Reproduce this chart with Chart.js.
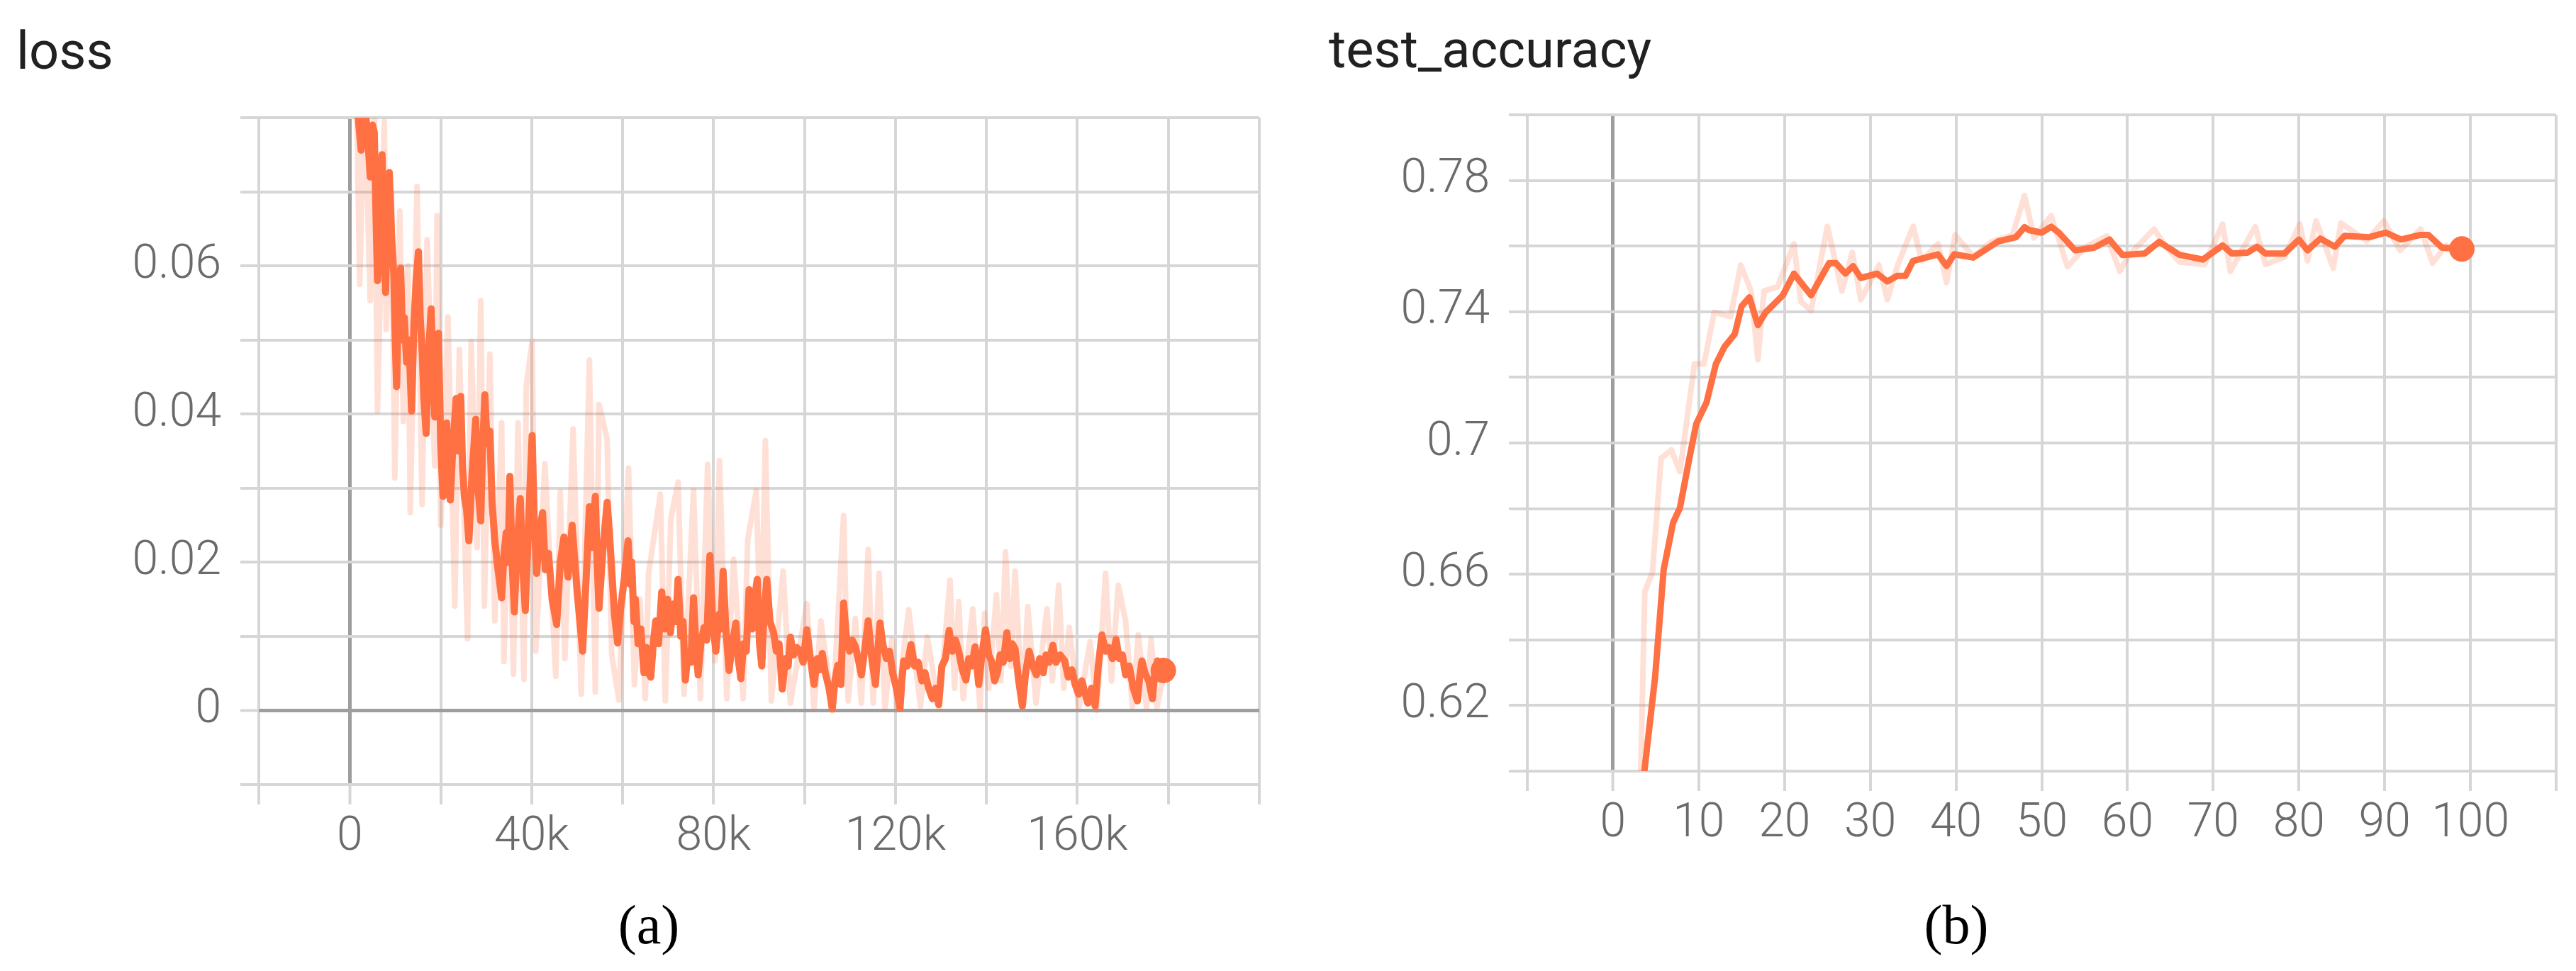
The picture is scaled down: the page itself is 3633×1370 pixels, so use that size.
<!DOCTYPE html>
<html>
<head>
<meta charset="utf-8">
<script src="https://cdn.jsdelivr.net/npm/chart.js@4.4.0/dist/chart.umd.min.js"></script>
<style>
  html, body { margin: 0; padding: 0; background: #fff; }
  body { width: 3633px; height: 1370px; position: relative; overflow: hidden; }
  canvas { position: absolute; top: 0; }
  #lossChart { left: 0; }
  #accChart { left: 1800px; }
  .title { position: absolute; font-family: Roboto, sans-serif; font-size: 74px; line-height: 1; color: #212121; white-space: nowrap; }
  .caption { position: absolute; top: 1266px; width: 200px; text-align: center; font-family: "Liberation Serif", serif; font-size: 78px; line-height: 1; color: #000; }
</style>
</head>
<body>
<div class="title" style="left:23px; top:35px">loss</div>
<div class="title" style="left:1874px; top:33px">test_accuracy</div>
<canvas id="lossChart" width="1800" height="1370"></canvas>
<canvas id="accChart" width="1833" height="1370"></canvas>
<div class="caption" style="left:815px">(a)</div>
<div class="caption" style="left:2659px">(b)</div>
<script>
// loss: steps in thousands (axis labels show "k")
var lossSmoothSteps = [1.5, 2.0, 2.5, 3.0, 3.5, 4.0, 4.5, 5.0, 5.4, 5.8, 6.1, 6.6, 7.1, 7.5, 7.9, 8.3, 8.7, 9.2,
  9.7, 10.0, 10.3, 10.7, 11.2, 11.6, 12.0, 12.5, 13.0, 13.6, 14.1, 14.6, 15.1, 15.5, 15.9, 16.3, 16.8, 17.3,
  17.9, 18.3, 18.7, 19.1, 19.5, 20.0, 20.5, 20.9, 21.3, 21.7, 22.1, 22.7, 23.4, 23.9, 24.4, 24.8, 25.2, 25.7,
  26.2, 26.9, 27.7, 28.2, 28.8, 29.2, 29.7, 30.2, 30.8, 31.3, 31.9, 32.6, 33.4, 33.9, 34.4, 34.8, 35.2, 35.7,
  36.2, 36.8, 37.5, 38.0, 38.6, 39.3, 40.1, 40.6, 41.1, 41.7, 42.4, 43.0, 43.7, 44.5, 45.5, 46.3, 47.1, 48.0,
  48.9, 50.0, 50.6, 51.2, 52.0, 52.7, 53.3, 54.0, 54.4, 54.8, 55.7, 56.6, 57.1, 57.6, 58.2, 58.9, 59.6, 60.4,
  61.2, 61.7, 62.0, 62.5, 62.8, 63.4, 64.0, 64.7, 65.2, 65.7, 66.2, 66.8, 67.3, 67.9, 68.6, 69.2, 69.9, 70.5,
  71.2, 71.7, 72.2, 72.8, 73.3, 73.8, 74.4, 75.0, 75.6, 76.1, 76.6, 77.2, 77.9, 78.5, 79.2, 79.8, 80.5, 81.2,
  81.6, 82.1, 82.7, 83.4, 84.1, 84.9, 85.4, 86.0, 86.6, 87.2, 87.8, 88.5, 89.0, 89.6, 90.1, 90.6, 91.1, 91.7,
  92.4, 93.2, 93.8, 94.4, 95.1, 95.8, 96.4, 96.9, 97.6, 98.3, 99.0, 99.7, 100.5, 101.3, 102.1, 102.8, 103.4,
  103.9, 104.6, 105.4, 106.1, 106.7, 107.3, 108.0, 108.6, 109.2, 109.9, 110.5, 111.2, 111.8, 112.5, 113.2,
  114.0, 114.8, 115.6, 116.1, 116.6, 117.2, 118.0, 118.7, 119.4, 120.2, 121.0, 121.4, 121.8, 122.6, 123.4,
  124.2, 125.0, 125.8, 126.5, 127.3, 128.1, 128.8, 129.5, 130.2, 131.0, 131.8, 132.5, 133.2, 133.9, 134.7,
  135.5, 136.1, 136.8, 137.5, 138.3, 139.0, 139.8, 140.5, 141.1, 141.8, 142.4, 143.0, 143.7, 144.5, 145.1,
  145.7, 146.3, 147.1, 147.9, 148.6, 149.4, 150.2, 151.0, 151.7, 152.5, 153.1, 153.8, 154.6, 155.3, 156.2,
  157.2, 158.0, 158.8, 159.5, 160.3, 161.0, 161.6, 162.3, 163.1, 163.9, 164.6, 165.4, 166.2, 166.9, 167.7,
  168.5, 169.2, 169.9, 170.6, 171.4, 172.3, 173.2, 173.7, 174.2, 174.9, 175.7, 176.5, 177.0, 177.6, 178.2,
  178.9];
var lossSmooth = [0.083, 0.079, 0.0756, 0.082, 0.0805, 0.077, 0.072, 0.079, 0.078, 0.066, 0.058, 0.07, 0.075,
  0.062, 0.0564, 0.068, 0.0726, 0.064, 0.0586, 0.05, 0.0437, 0.055, 0.0597, 0.05, 0.053, 0.047, 0.05, 0.0404,
  0.052, 0.058, 0.0619, 0.053, 0.0487, 0.042, 0.0374, 0.048, 0.0542, 0.045, 0.0396, 0.047, 0.0509, 0.036,
  0.0289, 0.036, 0.0388, 0.031, 0.0284, 0.036, 0.0421, 0.035, 0.0424, 0.033, 0.0289, 0.027, 0.0229, 0.032,
  0.0393, 0.03, 0.0256, 0.035, 0.0426, 0.036, 0.0377, 0.028, 0.0229, 0.019, 0.0152, 0.021, 0.024, 0.02, 0.0316,
  0.02, 0.0133, 0.022, 0.0286, 0.02, 0.0135, 0.025, 0.0371, 0.025, 0.0185, 0.024, 0.0267, 0.019, 0.0212, 0.015,
  0.0116, 0.02, 0.0234, 0.018, 0.025, 0.016, 0.012, 0.008, 0.018, 0.0275, 0.022, 0.0289, 0.02, 0.0138, 0.022,
  0.0281, 0.024, 0.019, 0.013, 0.0091, 0.014, 0.018, 0.0229,
  0.017, 0.02, 0.012, 0.015, 0.009, 0.011, 0.0051, 0.0085, 0.005, 0.0045, 0.0095, 0.0121, 0.009,
  0.016, 0.011, 0.015, 0.0105, 0.0144, 0.012, 0.0177, 0.01, 0.012, 0.0041, 0.008, 0.0065, 0.0152, 0.009,
  0.0048, 0.009, 0.0112, 0.0095, 0.0209, 0.012, 0.008, 0.013, 0.011, 0.0188, 0.011, 0.0054, 0.009, 0.0118,
  0.007, 0.0043, 0.009, 0.008, 0.0163, 0.011, 0.015, 0.0177, 0.009, 0.006, 0.013, 0.0177, 0.012, 0.0105,
  0.008, 0.009, 0.0029, 0.007, 0.006, 0.0099, 0.0075, 0.0085, 0.008, 0.0065, 0.0109, 0.007, 0.0035, 0.007,
  0.0055, 0.0077, 0.005, 0.003, 0.0002, 0.004, 0.0061, 0.0035, 0.0145, 0.01, 0.008, 0.0095, 0.0086, 0.007,
  0.0048, 0.008, 0.0121, 0.007, 0.0035, 0.008, 0.0118, 0.009, 0.007, 0.008, 0.005, 0.003, 0.0003, 0.004,
  0.0067, 0.006, 0.0089, 0.006, 0.0065, 0.004, 0.0051, 0.003, 0.0016, 0.003, 0.0008, 0.006, 0.007, 0.0108,
  0.008, 0.0095, 0.008, 0.0055, 0.0041, 0.007, 0.006, 0.0086, 0.0035, 0.0075, 0.0109, 0.0075, 0.0067, 0.004,
  0.0051, 0.0075, 0.0065, 0.0105, 0.007, 0.009, 0.0083, 0.004, 0.0006, 0.005, 0.008, 0.006, 0.0048, 0.007,
  0.0051, 0.0075, 0.0065, 0.0088, 0.0065, 0.0075, 0.0067, 0.0045, 0.0055, 0.0035, 0.0022, 0.004, 0.0025,
  0.001, 0.003, 0.0006, 0.006, 0.0102, 0.008, 0.0085, 0.007, 0.0096, 0.007, 0.0075, 0.0048, 0.006, 0.003,
  0.0013, 0.0045, 0.0067, 0.005, 0.004, 0.0016, 0.005, 0.0067, 0.0058, 0.0054];

var lossRawSteps = [1.4, 2.2, 3.2, 4.5, 5.4, 6.1, 7.6, 8.0, 9.2, 9.9, 11.0, 11.8, 12.8, 13.3, 14.8, 15.9, 17.0,
  18.7, 19.2, 20.0, 21.6, 23.1, 24.1, 25.9, 26.7, 28.0, 28.8, 29.6, 30.8, 31.9, 33.4, 33.9, 35.0, 36.0, 37.0,
  38.3, 38.8, 40.1, 40.9, 42.9, 45.3, 46.3, 47.3, 49.1, 50.9, 52.7, 54.0, 54.8, 56.6, 57.6, 59.2, 61.3, 62.6,
  63.8, 65.0, 65.7, 68.3, 69.4, 70.6, 72.2, 73.5, 75.6, 77.1, 78.7, 80.3, 81.3, 82.9, 84.4, 86.5, 87.5, 89.4,
  90.4, 91.4, 92.7, 95.3, 96.9, 100.5, 102.1, 103.6, 106.2, 108.6, 109.6, 111.2, 112.5, 114.0, 115.1, 116.4,
  117.7, 119.2, 120.3, 122.9, 125.5, 127.0, 129.6, 132.0, 133.0, 133.9, 134.9, 137.0, 138.6, 139.6, 140.5,
  142.2, 143.2, 144.2, 145.4, 146.3, 147.9, 149.1, 150.9, 153.3, 154.5, 155.9, 157.0, 158.2, 160.3, 162.8,
  164.3, 166.2, 167.5, 169.0, 170.6, 172.1, 173.4, 175.2, 176.2, 177.5, 178.9];
var lossRaw = [0.086, 0.0575, 0.085, 0.0553, 0.082, 0.0404, 0.0795, 0.0514, 0.07, 0.0314, 0.0674, 0.039, 0.06,
  0.0267, 0.0707, 0.0278, 0.0635, 0.033, 0.0668, 0.025, 0.0531, 0.0141, 0.0487, 0.0097, 0.0498, 0.022, 0.0553,
  0.0141, 0.0481, 0.0121, 0.0388, 0.0066, 0.03, 0.0049, 0.0388, 0.0042, 0.0437, 0.0498, 0.008, 0.0333, 0.0046,
  0.0295, 0.007, 0.038, 0.0022, 0.0473, 0.0025, 0.0413, 0.0366, 0.0075, 0.0014, 0.0327, 0.0035, 0.015, 0.0016,
  0.0185, 0.0292, 0.0013, 0.0259, 0.0308, 0.0022, 0.0297, 0.0016, 0.0332, 0.0067, 0.0337, 0.0016, 0.0204,
  0.0016, 0.023, 0.0297, 0.008, 0.0364, 0.0013, 0.0188, 0.001, 0.0144, 0.0003, 0.0121, 0.0, 0.0263, 0.0013,
  0.0124, 0.001, 0.0217, 0.001, 0.0185, 0.0003, 0.0095, 0.0003, 0.0136, 0.0006, 0.0099, 0.0002, 0.0176,
  0.003, 0.0147, 0.0016, 0.0137, 0.0003, 0.0131, 0.003, 0.0156, 0.004, 0.0214, 0.006, 0.0188, 0.0005, 0.014,
  0.001, 0.0137, 0.004, 0.0169, 0.003, 0.0112, 0.0003, 0.0093, 0.0, 0.0185, 0.004, 0.0169, 0.0121, 0.0005,
  0.0102, 0.0003, 0.0096, 0.0005, 0.0045];

// test_accuracy: epochs
var accSmoothSteps = [3.0, 4.9, 5.9, 7.0, 7.8, 8.9, 9.7, 10.9, 12.0, 13.0, 14.2, 15.0, 15.9, 16.9, 17.8, 19.8,
  21.1, 23.1, 25.2, 26.0, 27.1, 28.0, 28.9, 30.8, 32.0, 33.1, 34.1, 35.0, 37.9, 38.9, 39.8, 42.0, 44.9, 47.0,
  48.0, 48.5, 50.0, 51.1, 52.0, 53.9, 56.1, 57.9, 59.4, 62.0, 63.7, 66.1, 68.8, 71.1, 72.2, 74.0, 75.1, 76.1,
  78.3, 80.0, 81.0, 82.5, 84.2, 85.3, 88.2, 90.1, 91.9, 94.2, 95.1, 96.7, 99.0];
var accSmooth = [0.585, 0.6285, 0.6613, 0.6757, 0.6802, 0.6953, 0.7058, 0.7123, 0.7241, 0.7293, 0.7332, 0.7417,
  0.7444, 0.7359, 0.7398, 0.745, 0.7516, 0.745, 0.7548, 0.7548, 0.7516, 0.7539, 0.7503, 0.7516, 0.7492, 0.7509,
  0.7509, 0.7555, 0.7575, 0.7539, 0.7575, 0.7565, 0.7614, 0.7627, 0.7658, 0.7649, 0.7641, 0.7659, 0.7641,
  0.7587, 0.7595, 0.762, 0.7573, 0.7577, 0.7613, 0.7573, 0.7559, 0.7602, 0.7577, 0.758, 0.7598, 0.7577, 0.7577,
  0.762, 0.7587, 0.7623, 0.7598, 0.7631, 0.7627, 0.7641, 0.762, 0.7634, 0.7634, 0.7595, 0.7591];

var accRawSteps = [2.8, 3.7, 4.6, 5.6, 6.8, 7.8, 9.5, 10.6, 11.8, 13.7, 14.9, 16.1, 16.9, 17.6, 19.2, 21.1, 21.9,
  23.1, 25.0, 26.7, 27.9, 28.9, 31.0, 32.0, 33.2, 35.0, 36.0, 37.9, 38.9, 39.9, 42.0, 44.2, 46.6, 48.0, 49.1,
  51.1, 53.0, 55.0, 57.6, 59.1, 60.2, 63.1, 64.6, 66.1, 69.0, 71.1, 72.0, 74.9, 76.1, 78.3, 80.1, 81.0, 82.0,
  84.0, 84.9, 87.9, 89.9, 91.8, 94.2, 95.6, 97.1, 99.0];
var accRaw = [0.55, 0.6547, 0.6606, 0.6953, 0.6979, 0.6913, 0.7241, 0.7241, 0.7398, 0.7385, 0.7542, 0.7463,
  0.7254, 0.7463, 0.7476, 0.7607, 0.7431, 0.7404, 0.766, 0.7463, 0.7581, 0.7437, 0.7542, 0.7437, 0.7542, 0.766,
  0.7555, 0.7607, 0.7489, 0.7634, 0.7568, 0.7614, 0.7634, 0.7754, 0.7625, 0.7693, 0.7537, 0.7595, 0.7631,
  0.7523, 0.7573, 0.7652, 0.7595, 0.7551, 0.7544, 0.7667, 0.7523, 0.7659, 0.7544, 0.7566, 0.7667, 0.7555,
  0.7677, 0.7533, 0.767, 0.7616, 0.7677, 0.7587, 0.7652, 0.7548, 0.7602, 0.7566];

var ORANGE = "#ff7043";
var FAINT = "rgba(255, 112, 67, 0.22)";
var tickFont = { family: "Roboto", size: 66, weight: 300 };
var tickColor = "#6b6b6b";

function points(steps, values) {
  return steps.map(function (s, i) {
    return { x: s, y: values[i] };
  });
}

function gridColor(ctx) {
  return ctx.tick && Math.abs(ctx.tick.value) < 1e-9 ? "#9e9e9e" : "#d6d6d6";
}
function gridWidth(ctx) {
  return ctx.tick && Math.abs(ctx.tick.value) < 1e-9 ? 5 : 4;
}

function makeChart(id, smoothPts, rawPts, lineWidth, xScale, yScale, pad, yWidth, xHeight) {
  var last = smoothPts.length - 1;
  return new Chart(document.getElementById(id), {
    type: "line",
    data: {
      datasets: [
        {
          data: smoothPts,
          borderColor: ORANGE,
          borderWidth: lineWidth,
          borderJoinStyle: "round",
          pointRadius: function (c) { return c.dataIndex === last ? 18 : 0; },
          pointBackgroundColor: ORANGE,
          pointBorderWidth: 0,
          clip: 0,
        },
        {
          data: rawPts,
          borderColor: FAINT,
          borderWidth: 8,
          borderJoinStyle: "round",
          pointRadius: 0,
          clip: 0,
        },
      ],
    },
    options: {
      responsive: false,
      animation: false,
      devicePixelRatio: 1,
      layout: { padding: pad },
      plugins: { legend: { display: false }, tooltip: { enabled: false } },
      scales: {
        x: Object.assign({
          type: "linear",
          border: { display: false },
          grid: { color: gridColor, lineWidth: gridWidth, tickColor: "#d6d6d6", tickLength: 28, tickWidth: 4 },
          afterFit: function (s) { s.height = xHeight; },
        }, xScale),
        y: Object.assign({
          type: "linear",
          border: { display: false },
          grid: { color: gridColor, lineWidth: gridWidth, tickColor: "#d6d6d6", tickLength: 26, tickWidth: 4 },
          afterFit: function (s) { s.width = yWidth; },
        }, yScale),
      },
    },
  });
}

// loss chart
makeChart("lossChart", points(lossSmoothSteps, lossSmooth), points(lossRawSteps, lossRaw), 10,
  {
    min: -20, max: 200,
    ticks: {
      stepSize: 20, autoSkip: false, maxRotation: 0, padding: 8, color: tickColor, font: tickFont,
      callback: function (v) {
        if (v < 0 || v > 160 || v % 40 !== 0) return "";
        return v === 0 ? "0" : v + "k";
      },
    },
  },
  {
    min: -0.01, max: 0.08,
    ticks: {
      stepSize: 0.01, autoSkip: false, padding: 27, color: tickColor, font: tickFont,
      callback: function (v) {
        var r = Math.round(v * 100);
        if (r < 0 || r > 6 || r % 2 !== 0) return "";
        return r === 0 ? "0" : String(r / 100);
      },
    },
  },
  { left: 0, right: 24, top: 166, bottom: 0 }, 365, 263);

// test_accuracy chart
makeChart("accChart", points(accSmoothSteps, accSmooth), points(accRawSteps, accRaw), 9,
  {
    min: -10, max: 110,
    ticks: {
      stepSize: 10, autoSkip: false, maxRotation: 0, padding: 8, color: tickColor, font: tickFont,
      callback: function (v) {
        return v < 0 || v > 100 ? "" : String(v);
      },
    },
  },
  {
    min: 0.6, max: 0.8,
    ticks: {
      stepSize: 0.02, autoSkip: false, padding: 27, color: tickColor, font: tickFont,
      callback: function (v) {
        var r = Math.round(v * 100);
        if (r < 62 || r > 78 || (r - 62) % 4 !== 0) return "";
        return String(r / 100);
      },
    },
  },
  { left: 0, right: 28, top: 162, bottom: 0 }, 354, 282);
</script>
</body>
</html>
